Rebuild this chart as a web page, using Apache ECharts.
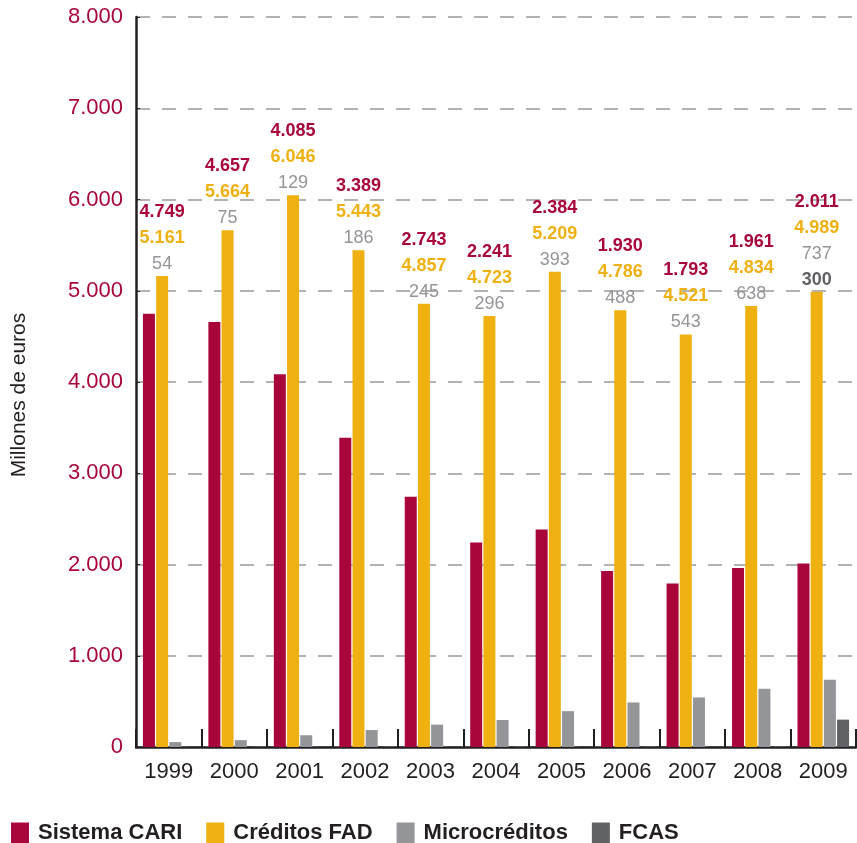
<!DOCTYPE html>
<html>
<head>
<meta charset="utf-8">
<script src="https://cdn.jsdelivr.net/npm/echarts@6/dist/echarts.min.js"></script>
<style>html,body{margin:0;padding:0;background:#fff}#c{width:857px;height:843px}</style>
</head>
<body>
<div id="c"></div>
<script>
const years = ['1999','2000','2001','2002','2003','2004','2005','2006','2007','2008','2009'];
const cari = [4749, 4657, 4085, 3389, 2743, 2241, 2384, 1930, 1793, 1961, 2011];
const fad = [5161, 5664, 6046, 5443, 4857, 4723, 5209, 4786, 4521, 4834, 4989];
const micro = [54, 75, 129, 186, 245, 296, 393, 488, 543, 638, 737];
const fcas = [null, null, null, null, null, null, null, null, null, null, 300];
const seriesNames = ['Sistema CARI', 'Créditos FAD', 'Microcréditos', 'FCAS'];

const C1 = '#a8063a', C2 = '#eeb111', C3 = '#939598', C4 = '#616265';
const FONT = '"Liberation Sans", Arial, sans-serif';

function fmt(v) {
  const s = String(Math.round(v));
  return s.replace(/\B(?=(\d{3})+(?!\d))/g, '.');
}

const chart = echarts.init(document.getElementById('c'), null, {renderer: 'canvas'});
chart.setOption({
  animation: false,
  textStyle: {fontFamily: FONT},
  grid: {left: 136, right: 1, top: 17, bottom: 96, containLabel: false},
  legend: {
    left: 6, top: 817,
    itemWidth: 18, itemHeight: 21, itemGap: 24,
    icon: 'rect',
    textStyle: {fontFamily: FONT, fontSize: 22, fontWeight: 'bold', color: '#231f20', padding: [0, 0, 0, 4]},
    data: seriesNames
  },
  xAxis: {
    type: 'category',
    data: years,
    axisLine: {lineStyle: {color: '#231f20', width: 2.5}},
    axisTick: {show: true, inside: true, length: 18, interval: 0, lineStyle: {color: '#231f20', width: 2}},
    axisLabel: {fontFamily: FONT, fontSize: 22, color: '#231f20', margin: 14, interval: 0}
  },
  yAxis: {
    type: 'value',
    min: 0, max: 8000, interval: 1000,
    name: 'Millones de euros',
    nameLocation: 'middle',
    nameGap: 106,
    nameRotate: 90,
    nameTextStyle: {fontFamily: FONT, fontSize: 21, color: '#231f20', padding: [0, 26, 0, 0]},
    axisLine: {show: true, lineStyle: {color: '#231f20', width: 2.5}},
    axisTick: {show: true, inside: true, length: 4, lineStyle: {color: '#231f20', width: 1}},
    axisLabel: {fontFamily: FONT, fontSize: 22, color: C1, margin: 13, formatter: v => fmt(v)},
    splitLine: {show: true, lineStyle: {color: '#9a9a9a', width: 1.5, type: [14, 12]}}
  },
  series: [
    {name: seriesNames[0], type: 'bar', data: cari, barWidth: 12, barGap: '10%', barCategoryGap: '22%', itemStyle: {color: C1}},
    {name: seriesNames[1], type: 'bar', data: fad, barWidth: 12, itemStyle: {color: C2},
      z: 3,
      label: {
        show: true, position: 'top', distance: -1,
        formatter: p => {
          const i = p.dataIndex;
          let s = '{a|' + fmt(cari[i]) + '}\n{b|' + fmt(fad[i]) + '}\n{c|' + fmt(micro[i]) + '}';
          if (fcas[i] != null) s += '\n{d|' + fmt(fcas[i]) + '}';
          return s;
        },
        rich: {
          a: {fontFamily: FONT, fontSize: 18, fontWeight: 'bold', color: C1, lineHeight: 26},
          b: {fontFamily: FONT, fontSize: 18, fontWeight: 'bold', color: C2, lineHeight: 26},
          c: {fontFamily: FONT, fontSize: 18, color: C3, lineHeight: 26},
          d: {fontFamily: FONT, fontSize: 18, fontWeight: 'bold', color: C4, lineHeight: 26}
        }
      }
    },
    {name: seriesNames[2], type: 'bar', data: micro, barWidth: 12, itemStyle: {color: C3}},
    {name: seriesNames[3], type: 'bar', data: fcas, barWidth: 12, itemStyle: {color: C4}}
  ]
});
</script>
</body>
</html>
